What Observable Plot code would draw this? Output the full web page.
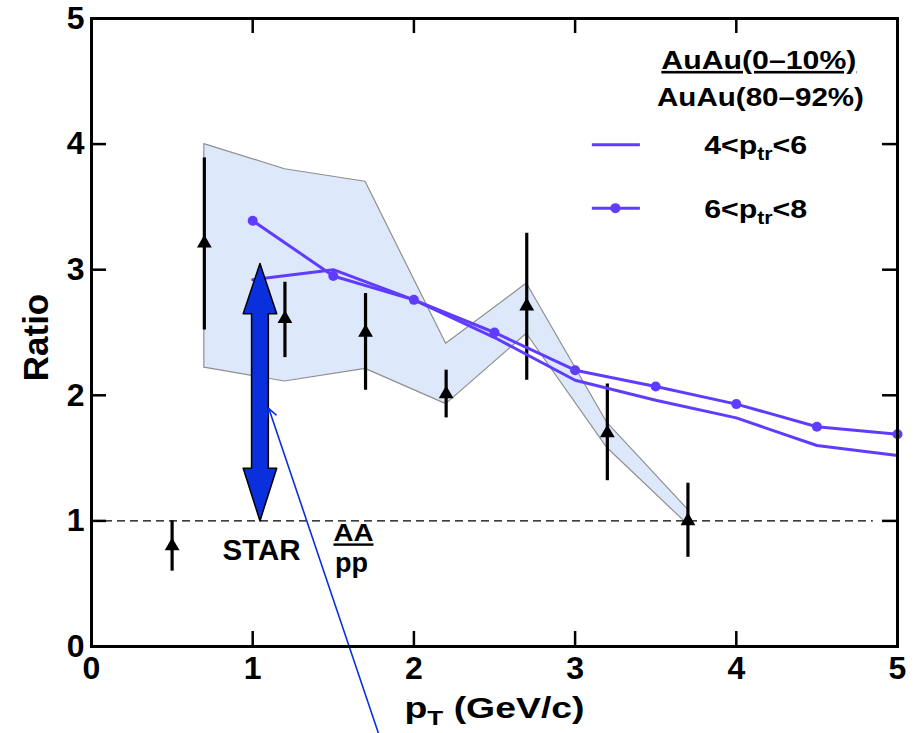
<!DOCTYPE html>
<html><head><meta charset="utf-8">
<script src="https://cdn.jsdelivr.net/npm/d3@7"></script>
<script src="https://cdn.jsdelivr.net/npm/@observablehq/plot@0.6"></script>
<style>body{margin:0;background:#fff}</style>
</head><body><div id="chart"></div>
<script>
// STAR data points (pT, ratio, error low, error high)
const starPt = [0.5, 0.7, 1.2, 1.7, 2.2, 2.7, 3.2, 3.7];
const starVal = [0.80, 3.21, 2.61, 2.50, 2.01, 2.71, 1.70, 1.00];
const starLo = [0.60, 2.52, 2.30, 2.04, 1.82, 2.12, 1.32, 0.71];
const starHi = [1.00, 3.89, 2.90, 2.81, 2.20, 3.29, 2.09, 1.30];
// systematic band
const bandPt = [0.7, 1.2, 1.7, 2.2, 2.7, 3.2, 3.7];
const bandLo = [2.22, 2.11, 2.21, 1.93, 2.49, 1.58, 0.97];
const bandHi = [4.00, 3.80, 3.70, 2.41, 2.89, 1.78, 1.09];
// model curves
const curvePt = [1.0, 1.5, 2.0, 2.5, 3.0, 3.5, 4.0, 4.5, 5.0];
const curve46 = [2.92, 3.00, 2.76, 2.46, 2.12, 1.96, 1.82, 1.60, 1.52];
const curve68 = [3.39, 2.95, 2.76, 2.50, 2.20, 2.07, 1.93, 1.75, 1.69];
// ticks
const xTicks = [0, 1, 2, 3, 4, 5];
const yTicks = [0, 1, 2, 3, 4, 5];
// double arrow annotation outline (pT, ratio)
const arrowX = [1.045, 1.149, 1.097, 1.097, 1.149, 1.045, 0.941, 0.993, 0.993, 0.941, 1.045];
const arrowY = [3.05, 2.65, 2.65, 1.42, 1.42, 1.00, 1.42, 1.42, 2.65, 2.65, 3.05];
// pointer line (from, to)
const pointer = [{x1: 1.78, y1: -0.69, x2: 1.10, y2: 1.895}];
// reference line at ratio 1
const unityLine = [{y: 1, x1: 0, x2: 4.85}];
// labels
const legendTexts = [
  {x: 4.14, y: 4.665, t: "AuAu(0–10%)"},
  {x: 4.15, y: 4.37, t: "AuAu(80–92%)"},
  {x: 4.12, y: 3.985, t: "4<p_{tr}<6"},
  {x: 4.12, y: 3.476, t: "6<p_{tr}<8"}
];
const legendLines = [{x1: 3.107, x2: 3.405, y: 3.995}, {x1: 3.107, x2: 3.405, y: 3.49}];
const legendDot = [{x: 3.25, y: 3.49}];
const innerTexts = [
  {x: 1.055, y: 0.759, t: "STAR"},
  {x: 1.625, y: 0.898, t: "AA"},
  {x: 1.613, y: 0.662, t: "pp"}
];
const xLabel = "p_{T} (GeV/c)";
const yLabel = "Ratio";

// text styling (font size, rendered length in px)
const textStyle = {
  "AuAu(0–10%)": {size: 26, len: 195, underline: true},
  "AuAu(80–92%)": {size: 26, len: 207},
  "4<p_{tr}<6": {size: 25, len: 103},
  "6<p_{tr}<8": {size: 25, len: 103},
  "STAR": {size: 29, len: 78},
  "AA": {size: 24, len: 40, underline: true},
  "pp": {size: 27, len: 33},
  "p_{T} (GeV/c)": {size: 29, len: 180}
};

const star = starPt.map((p, i) => ({pt: p, v: starVal[i], lo: starLo[i], hi: starHi[i]}));
const band = bandPt.map((p, i) => ({pt: p, lo: bandLo[i], hi: bandHi[i]}));
const c46 = curvePt.map((p, i) => ({pt: p, v: curve46[i]}));
const c68 = curvePt.map((p, i) => ({pt: p, v: curve68[i]}));
const arrowPoly = arrowX.map((x, i) => ({x, y: arrowY[i]}));

const W = 916, H = 733, mL = 91, mR = 19, mT = 18, mB = 87;
const pW = W - mL - mR, pH = H - mT - mB;
const purple = "#5f3cff";
const blue = "#0a2fdc";
const font = "'Liberation Sans', Arial, Helvetica, sans-serif";
const sz = t => (textStyle[t] || {}).size || 26;

const chart = Plot.plot({
  width: W, height: H,
  marginLeft: mL, marginRight: mR, marginTop: mT, marginBottom: mB,
  x: {domain: [0, 5]},
  y: {domain: [0, 5]},
  style: {fontFamily: font, fontWeight: "bold", fontSize: "32px", color: "black", background: "white"},
  marks: [
    Plot.areaY(band, {x: "pt", y1: "lo", y2: "hi", fill: "#dde8fa", stroke: "#8f8f8f", strokeWidth: 1.2}),
    Plot.ruleY(unityLine, {y: "y", x1: "x1", x2: "x2", stroke: "black", strokeWidth: 1.3, strokeDasharray: "8,5"}),
    Plot.ruleX(star, {x: "pt", y1: "lo", y2: "hi", stroke: "black", strokeWidth: 3.2}),
    Plot.dot(star, {x: "pt", y: "v", symbol: "triangle", r: 5.5, fill: "black"}),
    Plot.line(c46, {x: "pt", y: "v", stroke: purple, strokeWidth: 3}),
    Plot.line(c68, {x: "pt", y: "v", stroke: purple, strokeWidth: 3}),
    Plot.dot(c68, {x: "pt", y: "v", r: 5, fill: purple}),
    Plot.line(arrowPoly, {x: "x", y: "y", fill: blue, stroke: "black", strokeWidth: 1.5}),
    Plot.arrow(pointer, {x1: "x1", y1: "y1", x2: "x2", y2: "y2", stroke: blue, strokeWidth: 1.6, headLength: 9}),
    // legend
    Plot.ruleY(legendLines, {x1: "x1", x2: "x2", y: "y", stroke: purple, strokeWidth: 3}),
    Plot.dot(legendDot, {x: "x", y: "y", r: 5, fill: purple}),
    Plot.text(legendTexts, {x: "x", y: "y", text: "t", fontSize: d => sz(d.t), fontWeight: "bold", fill: "black"}),
    Plot.text(innerTexts, {x: "x", y: "y", text: "t", fontSize: d => sz(d.t), fontWeight: "bold", fill: "black"}),
    // frame & inward ticks
    Plot.frame({stroke: "black", strokeWidth: 3}),
    Plot.tickX(xTicks, {x: d => d, insetTop: pH - 15, stroke: "black", strokeWidth: 2.5}),
    Plot.tickX(xTicks, {x: d => d, insetBottom: pH - 15, stroke: "black", strokeWidth: 2.5}),
    Plot.tickY(yTicks, {y: d => d, insetRight: pW - 15, stroke: "black", strokeWidth: 2.5}),
    Plot.tickY(yTicks, {y: d => d, insetLeft: pW - 15, stroke: "black", strokeWidth: 2.5}),
    Plot.axisX({ticks: xTicks, tickSize: 0, tickPadding: 10, label: null, tickFormat: d => d}),
    Plot.axisY({ticks: yTicks, tickSize: 0, tickPadding: 7, label: null, tickFormat: d => d}),
    Plot.text([xLabel], {frameAnchor: "bottom", textAnchor: "middle", lineAnchor: "middle", dy: 62, fontSize: sz(xLabel), fontWeight: "bold"}),
    Plot.text([yLabel], {frameAnchor: "left", textAnchor: "middle", lineAnchor: "middle", dx: -55, dy: 5, rotate: -90, fontSize: 35, fontWeight: "bold"})
  ]
});

// subscripts, underlines, stretched widths
d3.select(chart).selectAll("text").each(function () {
  const t = this.textContent;
  const st = textStyle[t];
  if (!st) return;
  if (st.underline) this.style.textDecoration = "underline";
  if (st.len) {
    this.setAttribute("textLength", st.len);
    this.setAttribute("lengthAdjust", "spacingAndGlyphs");
  }
  if (!/_\{/.test(t)) return;
  const parts = t.split(/(_\{[^}]*\})/);
  const el = d3.select(this);
  el.text(null);
  parts.forEach(p => {
    if (!p) return;
    const m = p.match(/^_\{(.*)\}$/);
    if (m) el.append("tspan").attr("baseline-shift", "-35%").attr("font-size", "70%").text(m[1]);
    else el.append("tspan").text(p);
  });
});
document.getElementById("chart").appendChild(chart);
</script>
</body></html>
